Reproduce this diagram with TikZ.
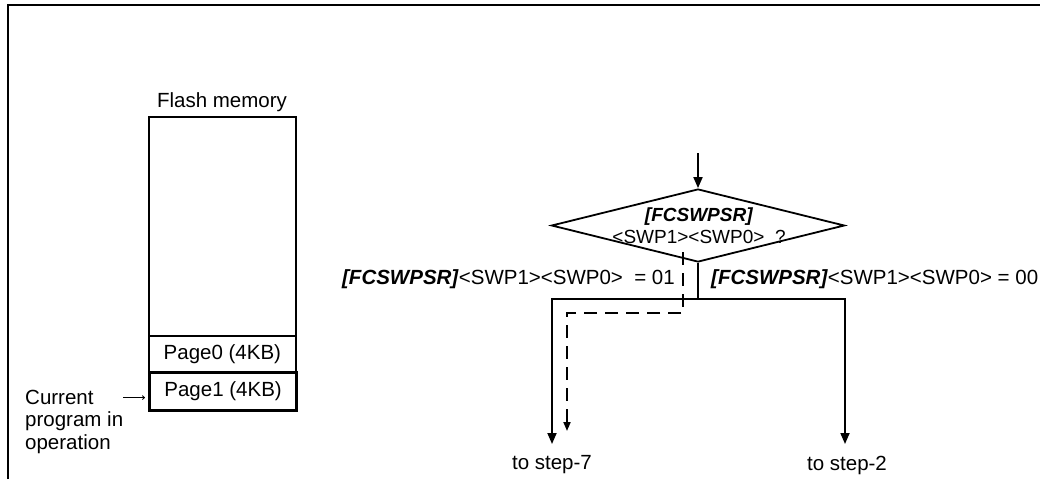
\documentclass[tikz,border=0pt]{standalone}
\usepackage{fontspec}
\setmainfont{Liberation Sans}
\usetikzlibrary{shapes.geometric,arrows.meta}
\begin{document}
\begin{tikzpicture}[x=1pt,y=-1pt,
  every node/.style={font=\fontsize{20.5}{22.5}\selectfont, inner sep=0pt},
  ln/.style={line width=1.8pt},
  arr/.style={line width=1.8pt,-{Triangle[length=11pt,width=9pt]}},
  darr/.style={line width=1.8pt,dash pattern=on 13pt off 8pt,-{Triangle[length=9pt,width=7pt]}},
  tarr/.style={line width=0.8pt,-{To[length=3pt,width=4.5pt]}},
  membox/.style={draw,line width=1.8pt,minimum width=147pt,anchor=north west},
]
\useasboundingbox (0,0) rectangle (1040,479);
% outer frame
\draw[line width=1.8pt] (8,479) -- (8,5) -- (1040,5);

% flash memory
\node (flashlbl) at (222,102) {Flash memory};
\node[membox, minimum height=219pt] (flash) at (148,116) {};
\node[membox, minimum height=36pt] (p0) at (148,335) {Page0 (4KB)};
\node[membox, minimum height=38pt, line width=3.2pt] (p1) at (148,371) {Page1 (4KB)};
\node[align=left, anchor=north west] (cur) at (25,389.5) {Current\\program in\\operation};
\draw[tarr] ([shift={(-25pt,-6pt)}]p1.west) -- ([shift={(-3pt,-6pt)}]p1.west);

% decision
\node[draw, diamond, line width=1.8pt, minimum width=293pt, minimum height=73pt] (dec) at (698,225.5) {};
\node[align=center, font=\fontsize{19}{22}\selectfont] (dectxt) at (699,226)
  {\textbf{\textit{[FCSWPSR]}}\\<SWP1><SWP0>\ \ ?};
\coordinate (in) at (698,153);
\draw[arr] (in) -- (dec.north);

% labels
\node[anchor=east] (l01) at (675,279) {\textbf{\textit{[FCSWPSR]}}<SWP1><SWP0>\ \ = 01};
\node[anchor=west] (l00) at (711,279) {\textbf{\textit{[FCSWPSR]}}<SWP1><SWP0> = 00};

\node (s7) at (552,465) {to step-7};
\node (s2) at (847,465) {to step-2};

\coordinate (split) at (698,299);
\coordinate (t7) at (552,444);
\coordinate (t2) at (845,444);
\draw[ln] (dec.south) -- (split);
\draw[arr] (split) -| (t7);
\draw[arr] (split) -| (t2);

% dashed path
\coordinate (d0) at (683,252);
\coordinate (dt) at (567,431);
\draw[darr] (d0) -- (683,313) -| (dt);
\end{tikzpicture}
\end{document}
